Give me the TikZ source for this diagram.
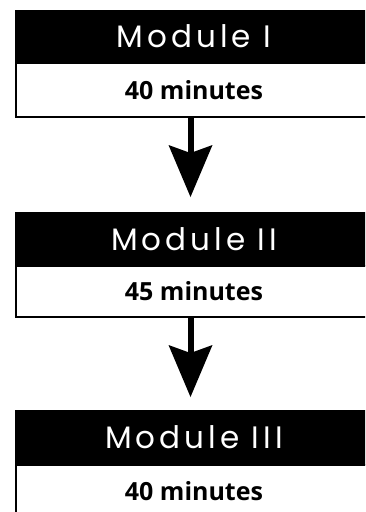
\documentclass[tikz,border=0pt]{standalone}
\usepackage{fontspec}
\usetikzlibrary{arrows.meta}
\newfontfamily\headfont{Poppins}[LetterSpace=13]
\newfontfamily\bandfont{Open Sans}
\tikzset{
  header/.style={fill=black, text=white, inner sep=0pt, outer sep=0pt,
    minimum width=358pt, font=\headfont\fontsize{31}{31}\selectfont},
  band/.style={draw=black, line width=2pt, fill=white, inner sep=0pt,
    outer sep=0pt, minimum width=356pt, font=\bandfont\bfseries\fontsize{25}{25}\selectfont},
  flow/.style={line width=6pt, line cap=butt,
    -{Stealth[length=52pt, width=44pt, inset=8pt, line width=0pt]}},
}
\begin{document}
\begin{tikzpicture}[x=1pt, y=-1pt]
  \useasboundingbox (0,0) rectangle (365,512);
  \begin{scope}
  \clip (0,0) rectangle (365,512);
  \fill[white] (0,0) rectangle (365,512);

  % Module I  (boxes run past the right edge of the page)
  \node[band, minimum height=54pt] (t1) at (194,90) {40 minutes};
  \node[header, minimum height=53pt] (h1) at (194,36.5) {Module I};

  % Module II
  \node[band, minimum height=50.5pt] (t2) at (194,291.25) {45 minutes};
  \node[header, minimum height=54pt] (h2) at (194,239) {Module II};

  % Module III
  \node[band, minimum height=52pt] (t3) at (194,491) {40 minutes};
  \node[header, minimum height=55pt] (h3) at (194,437.5) {Module III};

  % connectors between the modules
  \draw[flow, shorten >=15pt] ([xshift=-3.5pt,yshift=-1pt]t1.south) -- ([xshift=-3.5pt]h2.north);
  \draw[flow, shorten >=13pt] ([xshift=-3.5pt,yshift=-1pt]t2.south) -- ([xshift=-3.5pt]h3.north);
  \end{scope}
\end{tikzpicture}
\end{document}
